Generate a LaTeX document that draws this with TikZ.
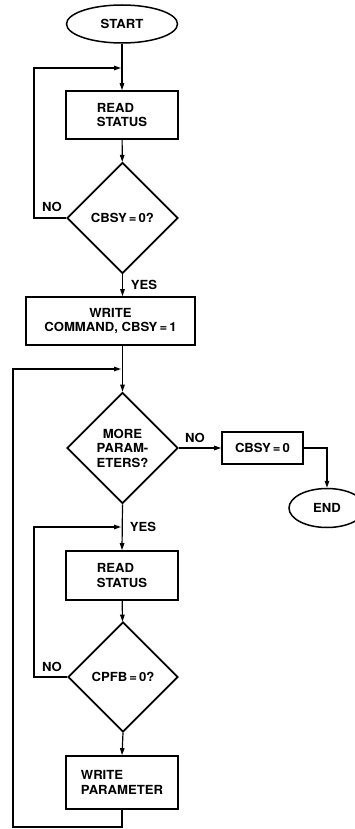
\documentclass[tikz,border=0pt]{standalone}
\usepackage{fontspec}
\setmainfont[FakeStretch=1.05]{TeX Gyre Heros}
\usetikzlibrary{shapes.geometric,arrows.meta}

\begin{document}
\begin{tikzpicture}[x=1pt,y=-1pt,
  txt/.style={font=\bfseries\fontsize{12.5}{14.5}\selectfont},
  box/.style={txt,draw,line width=1.7pt,inner sep=0pt,align=center},
  lbox/.style={box,align=left},
  terminal/.style={txt,draw,ellipse,line width=1.5pt,inner sep=0pt},
  decision/.style={txt,draw,diamond,aspect=1,line width=1.7pt,inner sep=0pt,
    minimum width=111pt,minimum height=111pt,align=center},
  lbl/.style={txt,inner sep=0pt},
  conn/.style={line width=1.2pt},
  arr/.style={conn,-{Triangle[length=7pt,width=4.5pt]}}
]
\useasboundingbox (0,0) rectangle (355,829);
\clip (0,0) rectangle (355,829);

% main column
\node[terminal,minimum width=111pt,minimum height=38pt] (start) at (122,24) {START};
\node[lbox,minimum width=112pt,minimum height=48pt] (rs1) at (122,115) {READ\\STATUS};
\node[decision] (d1) at (122.5,218) {CBSY\,=\,0?};
\node[box,minimum width=169pt,minimum height=48pt] (wc) at (110.5,321) {WRITE\\COMMAND, CBSY\,=\,1};
\node[decision] (d2) at (122.5,448) {MORE\\PARAM-\\ETERS?};
\node[lbox,minimum width=112pt,minimum height=49pt] (rs2) at (122,575.5) {READ\\STATUS};
\node[decision,minimum width=110pt,minimum height=110pt] (d3) at (123,677) {CPFB\,=\,0?};
\node[lbox,minimum width=112pt,minimum height=53pt] (wp) at (122,782.5) {WRITE\\PARAMETER};

% exit branch (the END oval runs off the right edge)
\node[box,minimum width=81pt,minimum height=32pt] (cb0) at (262.5,448) {CBSY\,=\,0};
\node[terminal,minimum width=76pt,minimum height=39pt] (end) at (327,508) {END};

% branch labels
\node[lbl] (no1) at (52,207) {NO};
\node[lbl] (yes1) at (144,285) {YES};
\node[lbl] (no2) at (195,438) {NO};
\node[lbl] (yes2) at (143,527) {YES};
\node[lbl] (no3) at (52,667) {NO};

% loop corners and junctions
\coordinate (l1) at (34,68);
\coordinate (j1) at (121,68);
\coordinate (l2) at (13,827);
\coordinate (j2) at (121,369);
\coordinate (l3) at (34,527);
\coordinate (j3) at (121,527);

% forward flow
\draw[arr] (start) -- (rs1);
\draw[arr] (rs1) -- (d1);
\draw[arr] (d1.south) -- (d1.south |- wc.north);
\draw[arr] (d2.north |- wc.south) -- (d2.north);
\draw[arr] (d2.east) -- (d2.east -| cb0.west);
\draw[arr] (cb0.east) -| (end.north);
\draw[arr] (d2.south) -- (rs2.north);
\draw[arr] (rs2) -- (d3);
\draw[arr] (d3.south) -- (wp.north);

% feedback loops
\draw[arr] (d1.west) -| (l1) -- (j1);
\draw[arr] (d3.west) -| (l3) -- (j3);
\draw[arr] (wp.south) |- (l2) |- (j2);
\end{tikzpicture}
\end{document}
